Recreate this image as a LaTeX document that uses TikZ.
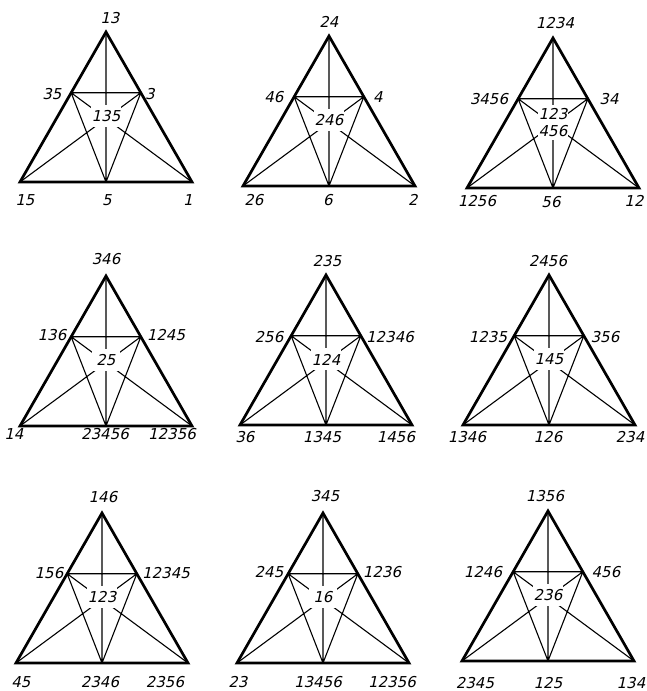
\documentclass[tikz,border=0pt]{standalone}
\usepackage{fontspec}
\newfontfamily\lblfont{DejaVu Sans}[FakeSlant=0.22]
\usetikzlibrary{calc}
\tikzset{
  lbl/.style={font=\lblfont\fontsize{15}{17}\selectfont, inner sep=0pt},
  ctr/.style={lbl, fill=white, inner xsep=1pt, inner ysep=3pt, minimum width=28pt, minimum height=22pt, align=center},
  thinline/.style={line width=1.1pt},
  thickline/.style={line width=2.7pt, line join=miter},
}
\newcommand{\tri}[4]{%
  \begin{scope}[shift={(#2,#3)}]
    \coordinate (#1A) at (0,0);
    \coordinate (#1L) at (-86,150);
    \coordinate (#1R) at (86,150);
    \coordinate (#1B) at (0,150);
    \coordinate (#1P) at ($(#1A)!0.405!(#1L)$);
    \coordinate (#1Q) at ($(#1A)!0.405!(#1R)$);
    \coordinate (#1C) at (intersection of #1L--#1Q and #1R--#1P);
    \draw[thinline] (#1P) -- (#1Q) (#1A) -- (#1B) (#1P) -- (#1B) (#1Q) -- (#1B)
      (#1L) -- (#1Q) (#1R) -- (#1P);
    \node[ctr] (#1c) at ($(#1C)+(0,-2)$) {#4};
    \draw[thickline] (#1A) -- (#1L) -- (#1R) -- cycle;
  \end{scope}}
\begin{document}
\begin{tikzpicture}[x=1pt,y=-1pt]
\useasboundingbox[fill=white] (0,0) rectangle (647,691);
% row 1
\tri{a}{106}{32}{135}
\node[lbl] (a1) at (110,18) {13};
\node[lbl] (a2) at (52,94) {35};
\node[lbl] (a3) at (150,94) {3};
\node[lbl] (a4) at (25,200) {15};
\node[lbl] (a5) at (107,200) {5};
\node[lbl] (a6) at (188,200) {1};

\tri{b}{329}{36}{246}
\node[lbl] (b1) at (329,22) {24};
\node[lbl] (b2) at (274,97) {46};
\node[lbl] (b3) at (378,97) {4};
\node[lbl] (b4) at (254,200) {26};
\node[lbl] (b5) at (328,200) {6};
\node[lbl] (b6) at (413,200) {2};

\tri{c}{553}{38}{123\\456}
\node[lbl] (c1) at (555,23) {1234};
\node[lbl] (c2) at (489,99) {3456};
\node[lbl] (c3) at (609,99) {34};
\node[lbl] (c4) at (477,201) {1256};
\node[lbl] (c5) at (551,202) {56};
\node[lbl] (c6) at (634,201) {12};
% row 2
\tri{d}{106}{276}{25}
\node[lbl] (d1) at (106,259) {346};
\node[lbl] (d2) at (52,335) {136};
\node[lbl] (d3) at (166,335) {1245};
\node[lbl] (d4) at (14,434) {14};
\node[lbl] (d5) at (105,434) {23456};
\node[lbl] (d6) at (172,434) {12356};

\tri{e}{326}{275}{124}
\node[lbl] (e1) at (327,261) {235};
\node[lbl] (e2) at (269,337) {256};
\node[lbl] (e3) at (390,337) {12346};
\node[lbl] (e4) at (245,437) {36};
\node[lbl] (e5) at (322,437) {1345};
\node[lbl] (e6) at (396,437) {1456};

\tri{f}{549}{275}{145}
\node[lbl] (f1) at (548,261) {2456};
\node[lbl] (f2) at (488,337) {1235};
\node[lbl] (f3) at (605,337) {356};
\node[lbl] (f4) at (467,437) {1346};
\node[lbl] (f5) at (548,437) {126};
\node[lbl] (f6) at (630,437) {234};
% row 3
\tri{g}{102}{513}{123}
\node[lbl] (g1) at (103,497) {146};
\node[lbl] (g2) at (49,573) {156};
\node[lbl] (g3) at (166,573) {12345};
\node[lbl] (g4) at (21,682) {45};
\node[lbl] (g5) at (100,682) {2346};
\node[lbl] (g6) at (165,682) {2356};

\tri{h}{323}{513}{16}
\node[lbl] (h1) at (325,496) {345};
\node[lbl] (h2) at (269,572) {245};
\node[lbl] (h3) at (382,572) {1236};
\node[lbl] (h4) at (238,682) {23};
\node[lbl] (h5) at (318,682) {13456};
\node[lbl] (h6) at (392,682) {12356};

\tri{i}{548}{511}{236}
\node[lbl] (i1) at (545,496) {1356};
\node[lbl] (i2) at (483,572) {1246};
\node[lbl] (i3) at (606,572) {456};
\node[lbl] (i4) at (475,683) {2345};
\node[lbl] (i5) at (548,683) {125};
\node[lbl] (i6) at (631,683) {134};
\end{tikzpicture}
\end{document}
